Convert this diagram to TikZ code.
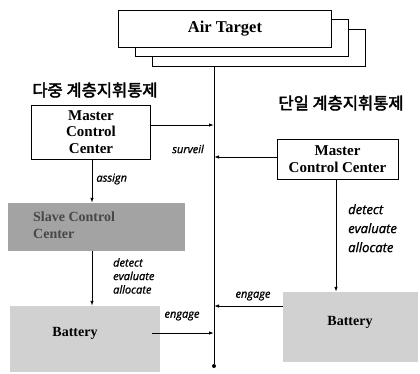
\documentclass[tikz,border=0pt]{standalone}
\usepackage{fontspec}
\setmainfont{Liberation Serif}
\newfontfamily\kr[FakeBold=2.5]{Noto Sans CJK KR}
\newfontfamily\lab[FakeBold=1.2]{Open Sans}
\usetikzlibrary{arrows.meta}
\begin{document}
\begin{tikzpicture}[x=1pt,y=-1pt,
  tbox/.style={draw=black,line width=0.9pt,fill=white,minimum width=213pt,minimum height=37pt,anchor=north west,inner sep=0pt},
  mcc/.style={draw=black,line width=0.9pt,fill=white,font=\fontsize{15}{16.5}\selectfont\bfseries,align=center,inner sep=2pt},
  lbl/.style={font=\lab\itshape\fontsize{11}{13.5}\selectfont,inner sep=0pt,align=left},
  biglbl/.style={font=\lab\itshape\fontsize{13}{19}\selectfont,inner sep=0pt,align=left},
  korean/.style={font=\kr\fontsize{16.5}{18}\selectfont,inner sep=0pt},
  conn/.style={line width=0.9pt},
  arr/.style={line width=0.9pt,-{Latex[length=5pt,width=3.5pt]}}
]
\useasboundingbox (0,0) rectangle (420,374);
% air target stack
\node[tbox] (t3) at (152,29) {};
\node[tbox] (t2) at (135,19) {};
\node[tbox] (t1) at (118,10) {};
\node[font=\fontsize{16.5}{18}\selectfont\bfseries] (at) at (t1.center) {Air Target};
% bus line
\coordinate (bt) at (214,67);
\node[circle,fill=black,inner sep=0pt,minimum size=4pt] (bb) at (214,366) {};
\draw[conn] (bt) -- (bb);
% korean headings
\node[korean] (k1) at (95,90) {다중 계층지휘통제};
\node[korean] (k2) at (341,103) {단일 계층지휘통제};
% left master
\node[mcc,minimum width=119pt,minimum height=54pt] (mL) at (91,132) {Master\\Control\\Center};
\coordinate (s1) at (214,125);
\draw[arr] (mL.east |- s1) -- (s1);
\node[lbl] (sv) at (188,149) {surveil};
% right master
\node[mcc,minimum width=121pt,minimum height=40pt] (mR) at (337.5,159) {Master\\Control Center};
\coordinate (s2) at (214,157);
\draw[arr] (mR.west |- s2) -- (s2);
% slave control center
\node[fill=black!36,minimum width=177pt,minimum height=48pt,inner sep=0pt] (sl) at (96,227) {};
\node[font=\fontsize{14}{17}\selectfont\bfseries,text=black!72,align=left,anchor=north west,inner sep=0pt] (slt) at (33,212) {Slave Control\\Center};
\draw[arr] (mL.south -| 92,0) -- node[lbl,anchor=west,pos=0.45,xshift=4pt] (as) {assign} (sl.north -| 92,0);
% left battery
\node[fill=black!18,minimum width=150pt,minimum height=66pt,inner sep=0pt] (bL) at (85,339) {};
\node[font=\fontsize{14}{16}\selectfont\bfseries] (bLt) at (75,333) {Battery};
\draw[arr] (sl.south -| 92,0) -- (bL.north -| 92,0);
\node[lbl,anchor=north west] (dL) at (113,258) {detect\\evaluate\\allocate};
\coordinate (e1) at (214,333);
\draw[arr] (152,333) coordinate (bLe) -- (e1);
\node[lbl] (eg1) at (182,316) {engage};
% right battery
\node[fill=black!18,minimum width=135pt,minimum height=70pt,inner sep=0pt] (bR) at (350.5,327) {};
\node[font=\fontsize{14}{16}\selectfont\bfseries] (bRt) at (350,322) {Battery};
\draw[arr] (mR.south -| 336,0) -- (bR.north -| 336,0);
\node[biglbl,anchor=north west] (dR) at (348,204) {detect\\evaluate\\allocate};
\coordinate (e2) at (214,306);
\draw[arr] (bR.west |- e2) -- (e2);
\node[lbl] (eg2) at (253,296) {engage};
\end{tikzpicture}
\end{document}
